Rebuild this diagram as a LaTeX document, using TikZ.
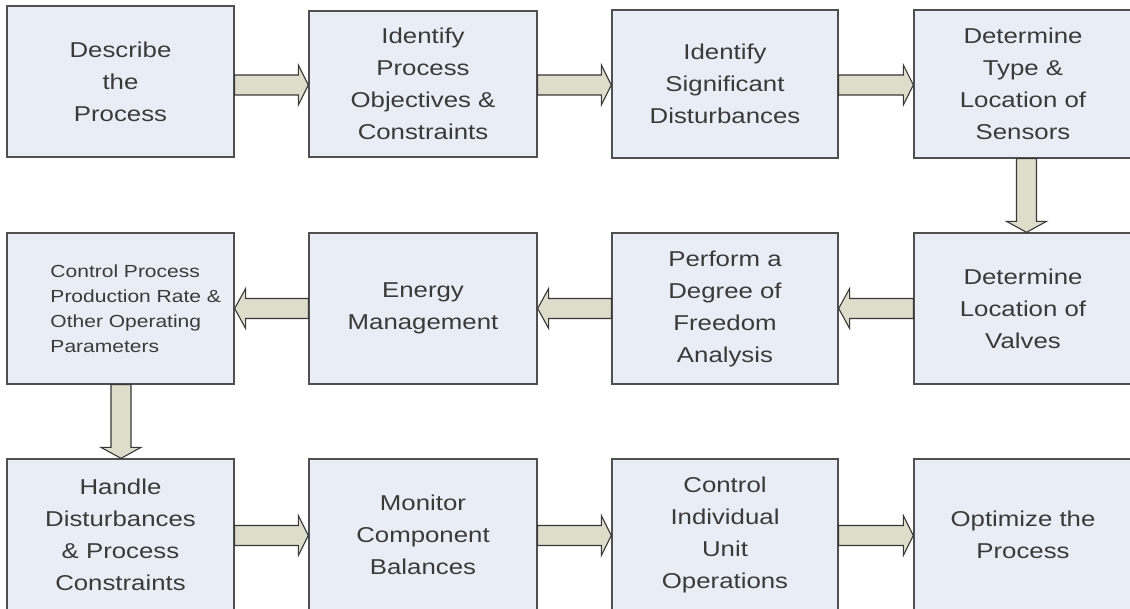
\documentclass[tikz,border=0pt]{standalone}
\usepackage{fontspec}
\usetikzlibrary{calc}
\newfontfamily\boxfont[FakeStretch=1.2]{Liberation Sans}
\definecolor{boxfill}{HTML}{E9EEF6}
\definecolor{boxline}{HTML}{505050}
\definecolor{txt}{HTML}{3A3A3A}
\definecolor{arrfill}{HTML}{DCDDCB}
\definecolor{arrline}{HTML}{383838}
% right-pointing block arrow from node #1 to node #2, centred at height #3
\newcommand{\rarr}[3]{\draw[barrow] let \p1=(#1.east), \p2=(#2.west) in
  (\x1,#3pt+10pt) -- (\x2-10pt,#3pt+10pt) -- (\x2-10pt,#3pt+20pt) -- (\x2,#3pt)
  -- (\x2-10pt,#3pt-20pt) -- (\x2-10pt,#3pt-10pt) -- (\x1,#3pt-10pt) -- cycle;}
% left-pointing block arrow
\newcommand{\larr}[3]{\draw[barrow] let \p1=(#1.west), \p2=(#2.east) in
  (\x1,#3pt+10pt) -- (\x2+11pt,#3pt+10pt) -- (\x2+11pt,#3pt+20pt) -- (\x2,#3pt)
  -- (\x2+11pt,#3pt-20pt) -- (\x2+11pt,#3pt-10pt) -- (\x1,#3pt-10pt) -- cycle;}
% down-pointing block arrow, centred at x #3
\newcommand{\darr}[3]{\draw[barrow] let \p1=(#1.south), \p2=(#2.north) in
  (#3pt-10pt,\y1) -- (#3pt-10pt,\y2+11pt) -- (#3pt-20pt,\y2+11pt) -- (#3pt,\y2)
  -- (#3pt+20pt,\y2+11pt) -- (#3pt+10pt,\y2+11pt) -- (#3pt+10pt,\y1) -- cycle;}
\begin{document}
\begin{tikzpicture}[x=1pt,y=1pt,
  box/.style={draw=boxline, line width=1.3pt, fill=boxfill, text=txt,
    font=\boxfont\fontsize{21.5}{32}\selectfont, align=center, inner sep=0pt},
  smallbox/.style={box, font=\boxfont\fontsize{17.5}{25}\selectfont},
  barrow/.style={draw=arrline, line width=1.1pt, fill=arrfill, line join=miter}]
\useasboundingbox (0,0) rectangle (1130,609);
\fill[white] (0,0) rectangle (1130,609);
\clip (0,0) rectangle (1130,609);
% row 1
\node[box, minimum width=227pt, minimum height=151pt] (b1) at (120.5,527.5) {Describe\\the\\Process};
\node[box, minimum width=228pt, minimum height=146pt] (b2) at (423,525) {Identify\\Process\\Objectives \&\\Constraints};
\node[box, minimum width=226pt, minimum height=148pt] (b3) at (725,525) {Identify\\Significant\\Disturbances};
\node[box, minimum width=218pt, minimum height=148pt] (b4) at (1023,525) {Determine\\Type \&\\Location of\\Sensors};
% row 2
\node[smallbox, minimum width=227pt, minimum height=151pt] (b5) at (120.5,300.5)
  {\hspace*{32pt}\parbox[c]{172pt}{\raggedright Control Process\\Production Rate \&\\Other Operating\\Parameters}};
\node[box, minimum width=228pt, minimum height=151pt] (b6) at (423,300.5) {Energy\\Management};
\node[box, minimum width=226pt, minimum height=151pt] (b7) at (725,300.5) {Perform a\\Degree of\\Freedom\\Analysis};
\node[box, minimum width=218pt, minimum height=151pt] (b8) at (1023,300.5) {Determine\\Location of\\Valves};
% row 3
\node[box, minimum width=227pt, minimum height=152pt] (b9) at (120.5,74) {Handle\\Disturbances\\\& Process\\Constraints};
\node[box, minimum width=228pt, minimum height=152pt] (b10) at (423,74) {Monitor\\Component\\Balances};
\node[box, minimum width=226pt, minimum height=152pt] (b11) at (725,74) {Control\\Individual\\Unit\\Operations};
\node[box, minimum width=218pt, minimum height=152pt] (b12) at (1023,74) {Optimize the\\Process};
% connectors
\rarr{b1}{b2}{524}
\rarr{b2}{b3}{524}
\rarr{b3}{b4}{524}
\darr{b4}{b8}{1026.5}
\larr{b8}{b7}{300.5}
\larr{b7}{b6}{300.5}
\larr{b6}{b5}{300.5}
\darr{b5}{b9}{121}
\rarr{b9}{b10}{73.5}
\rarr{b10}{b11}{73.5}
\rarr{b11}{b12}{73.5}
\end{tikzpicture}
\end{document}
